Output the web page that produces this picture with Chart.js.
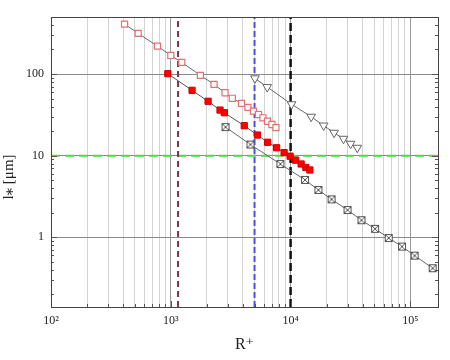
<!DOCTYPE html>
<html><head><meta charset="utf-8">
<script src="https://cdn.jsdelivr.net/npm/chart.js@4/dist/chart.umd.min.js"></script>
<style>html,body{margin:0;padding:0;background:#fff}</style>
</head><body>
<canvas id="c" width="450" height="360"></canvas>
<script>
// ---- data ----
const openSqX = [411, 534, 773, 1000, 1235, 1765, 2296, 2835, 3261, 3890, 4405, 4897, 5394, 5878, 6410, 6986, 7544];
const openSqY = [409, 315, 220, 169, 139, 96.4, 74.8, 59.0, 50.5, 43.8, 39.1, 35.1, 31.9, 29.1, 26.4, 24.1, 22.1];
const filledSqX = [944, 1505, 2047, 2576, 2797, 4104, 5285, 6427, 7638, 8830, 9908, 11010, 12250, 13410, 14480];
const filledSqY = [101, 63.2, 46.4, 36.2, 33.6, 23.3, 17.9, 14.6, 12.5, 10.9, 9.86, 8.81, 7.91, 7.17, 6.68];
const triX = [5040, 6382, 10190, 14850, 18890, 23080, 27640, 31700, 36030];
const triY = [88.6, 69.3, 42.7, 30.0, 23.4, 19.1, 16.1, 14.0, 12.5];
const crossX = [2862, 4624, 8222, 13200, 17060, 21980, 29870, 39060, 50720, 65960, 85150, 108600, 153400];
const crossY = [22.4, 13.7, 7.90, 5.05, 3.80, 2.92, 2.16, 1.62, 1.27, 0.98, 0.769, 0.596, 0.418];
const refLinesX = [1150, 5000, 10000];
const refLineY = 10;
const xRange = [100, 170000];
const yRange = [0.14, 500];
const xDecades = [100, 1000, 10000, 100000];
const yDecades = [0.1, 1, 10, 100];
const multipliers = [1, 2, 3, 4, 5, 6, 7, 8, 9];
const xTickLabels = {100: '10\u00B2', 1000: '10\u00B3', 10000: '10\u2074', 100000: '10\u2075'};
const yTickLabels = {1: '1', 10: '10', 100: '100'};

const pts = (xs, ys) => xs.map((x, i) => ({x, y: ys[i]}));
function buildTicks(decades, range) {
  const t = [];
  decades.forEach(d => multipliers.forEach(m => {
    const v = +(d * m).toPrecision(6);
    if (v >= range[0] && v <= range[1]) t.push({value: v, major: m === 1});
  }));
  return t;
}

// crossed-square marker
const cs = document.createElement('canvas');
cs.width = 10; cs.height = 10;
(function(){
  const g = cs.getContext('2d');
  g.fillStyle = '#fff'; g.fillRect(1.5, 1.5, 7, 7);
  g.strokeStyle = '#555'; g.lineWidth = 1;
  g.strokeRect(1.5, 1.5, 7, 7);
  g.beginPath(); g.moveTo(2, 2); g.lineTo(8, 8); g.moveTo(8, 2); g.lineTo(2, 8); g.stroke();
})();

const refColors = ['#7a3446', '#4f4fe6', '#111111'];
const refDash = [[6, 4], [6, 3], [8, 4]];
const refDatasets = refLinesX.map((x, i) => ({
  data: [{x, y: yRange[0]}, {x, y: yRange[1]}],
  borderColor: refColors[i], borderWidth: i === 2 ? 2.5 : 2, borderDash: refDash[i],
  pointRadius: 0, order: 10, clip: 0
}));
refDatasets.push({
  data: [{x: xRange[0], y: refLineY}, {x: xRange[1], y: refLineY}],
  borderColor: '#44dd44', borderWidth: 2, borderDash: [9, 5], pointRadius: 0, order: 10
});

const frame = {
  id: 'frame',
  afterDraw(chart) {
    const {ctx, chartArea: a, scales} = chart;
    ctx.save();
    ctx.strokeStyle = '#555'; ctx.lineWidth = 1;
    scales.x.ticks.forEach(t => {
      const px = Math.round(scales.x.getPixelForValue(t.value)) + 0.5;
      const L = t.major ? 6 : 3;
      ctx.beginPath(); ctx.moveTo(px, a.bottom); ctx.lineTo(px, a.bottom - L); ctx.stroke();
    });
    scales.y.ticks.forEach(t => {
      const py = Math.round(scales.y.getPixelForValue(t.value)) + 0.5;
      const L = t.major ? 6 : 3;
      ctx.beginPath();
      ctx.moveTo(a.left, py); ctx.lineTo(a.left + L, py);
      ctx.moveTo(a.right, py); ctx.lineTo(a.right - L, py);
      ctx.stroke();
    });
    ctx.strokeStyle = '#444';
    ctx.strokeRect(Math.round(a.left) + 0.5, Math.round(a.top) + 0.5, Math.round(a.right - a.left), Math.round(a.bottom - a.top));
    ctx.restore();
  }
};

const serif = "'Liberation Serif', 'DejaVu Serif', serif";

new Chart(document.getElementById('c'), {
  type: 'line',
  data: {
    datasets: [
      {data: pts(openSqX, openSqY), borderColor: '#666', borderWidth: 1, pointStyle: 'rect',
       pointRadius: 4.3, pointBackgroundColor: '#fff', pointBorderColor: '#e07272', pointBorderWidth: 1.2, order: 1},
      {data: pts(filledSqX, filledSqY), borderColor: '#555', borderWidth: 1, pointStyle: 'rect',
       pointRadius: 4.4, pointBackgroundColor: '#ff0000', pointBorderColor: '#d00000', pointBorderWidth: 1, order: 0},
      {data: pts(triX, triY), borderColor: '#666', borderWidth: 1, pointStyle: 'triangle', pointRotation: 180,
       pointRadius: 5, pointBackgroundColor: '#fff', pointBorderColor: '#666', pointBorderWidth: 1, order: 1},
      {data: pts(crossX, crossY), borderColor: '#666', borderWidth: 1, pointStyle: cs,
       pointRadius: 5, order: 1},
      ...refDatasets
    ]
  },
  options: {
    responsive: false, animation: false,
    layout: {padding: {top: 17, right: 12, left: 0, bottom: 0}},
    plugins: {legend: {display: false}, tooltip: {enabled: false}},
    elements: {line: {tension: 0}},
    scales: {
      x: {
        type: 'logarithmic', min: xRange[0], max: xRange[1],
        afterBuildTicks: s => { s.ticks = buildTicks(xDecades, xRange); },
        afterFit: s => { s.height = 53; },
        ticks: {autoSkip: false, maxRotation: 0, padding: 7, color: '#222',
          font: {family: serif, size: 12},
          callback: (v) => xTickLabels[v] || ''},
        grid: {drawTicks: false, lineWidth: 1,
          color: c => (c.tick && c.tick.major) ? '#9a9a9a' : '#d4d4d4'},
        border: {display: false},
        title: {display: true, text: 'R\u207A', color: '#222', font: {family: serif, size: 16},
          padding: {top: 0, bottom: 6}}
      },
      y: {
        type: 'logarithmic', min: yRange[0], max: yRange[1],
        afterBuildTicks: s => { s.ticks = buildTicks(yDecades, yRange); },
        afterFit: s => { s.width = 51; },
        ticks: {autoSkip: false, padding: 7, color: '#222',
          font: {family: serif, size: 12},
          callback: (v) => yTickLabels[v] || ''},
        grid: {drawTicks: false, lineWidth: 1,
          color: c => (c.tick && c.tick.major) ? '#8a8a8a' : 'rgba(0,0,0,0)'},
        border: {display: false},
        title: {display: true, text: 'l\u204E [\u03BCm]\u2003\u2003', color: '#222', font: {family: serif, size: 15},
          padding: {top: 0, bottom: 0}}
      }
    }
  },
  plugins: [frame]
});
</script>
</body></html>
